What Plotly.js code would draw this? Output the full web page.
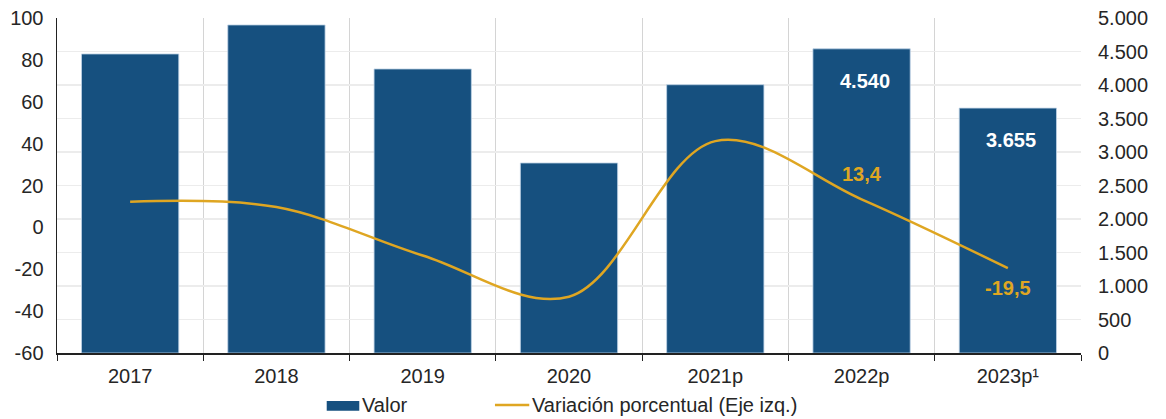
<!DOCTYPE html>
<html>
<head>
<meta charset="utf-8">
<script src="https://cdn.plot.ly/plotly-3.0.1.min.js"></script>
<style>
  html, body { margin: 0; padding: 0; background: #ffffff; }
  #chart { width: 1166px; height: 419px; }
</style>
</head>
<body>
<div id="chart"></div>
<script>
// Años (p = preliminar)
const years = ['2017', '2018', '2019', '2020', '2021p', '2022p', '2023p¹'];
// Valor (eje derecho)
const valor = [4463, 4896, 4239, 2836, 4004, 4540, 3655];
// Variación porcentual anual (eje izquierdo)
const variacion = [12.2, 9.7, -13.4, -33.1, 41.2, 13.4, -19.5];
// Años cuyos valores se rotulan
const labeledYears = ['2022p', '2023p¹'];
// Marcas del eje izquierdo (con guion simple como signo negativo)
const leftTickVals = [-60, -40, -20, 0, 20, 40, 60, 80, 100];
const leftTickText = ['-60', '-40', '-20', '0', '20', '40', '60', '80', '100'];

const BAR_COLOR = '#16507f';
const LINE_COLOR = '#dfa622';
const TEXT_COLOR = '#262626';
const FONT = 'Liberation Sans, Arial, sans-serif';

const fmtValor = v => v.toLocaleString('es-ES', { useGrouping: 'always' }).replace(/\s/g, '.');
const fmtVar = v => v.toLocaleString('es-ES', { minimumFractionDigits: 1, maximumFractionDigits: 1 }).replace('\u2212', '-');

// Barras en el eje base (derecho); la línea en un eje superpuesto (izquierdo) para quedar encima
const traces = [
  {
    type: 'bar',
    name: 'Valor',
    x: years,
    y: valor,
    yaxis: 'y',
    marker: { color: BAR_COLOR, line: { color: 'rgba(190,210,230,0.8)', width: 1 } },
    hoverinfo: 'x+y',
    showlegend: false
  },
  {
    type: 'scatter',
    mode: 'lines',
    name: 'Variación porcentual (Eje izq.)',
    x: years,
    y: variacion,
    yaxis: 'y2',
    line: { color: LINE_COLOR, width: 2.5, shape: 'spline', smoothing: 1 },
    showlegend: false
  }
];

const annotations = [];
labeledYears.forEach(yr => {
  const i = years.indexOf(yr);
  annotations.push({
    x: yr, y: valor[i], xref: 'x', yref: 'y',
    text: '<b>' + fmtValor(valor[i]) + '</b>',
    showarrow: false, yanchor: 'middle', yshift: -32, xshift: 3,
    font: { family: FONT, size: 20, color: '#ffffff' }
  });
});
// Rótulos de la variación en los dos últimos años
const varShift = { '2022p': 25, '2023p¹': -20 };
labeledYears.forEach(yr => {
  const i = years.indexOf(yr);
  annotations.push({
    x: yr, y: variacion[i], xref: 'x', yref: 'y2',
    text: '<b>' + fmtVar(variacion[i]) + '</b>',
    showarrow: false, yanchor: 'middle', yshift: varShift[yr],
    font: { family: FONT, size: 20, color: LINE_COLOR }
  });
});

// Leyenda
annotations.push(
  { xref: 'paper', yref: 'paper', x: 0.2960, y: -0.1552, xanchor: 'left', yanchor: 'middle',
    text: 'Valor', showarrow: false, font: { family: FONT, size: 20, color: TEXT_COLOR } },
  { xref: 'paper', yref: 'paper', x: 0.4617, y: -0.1552, xanchor: 'left', yanchor: 'middle',
    text: 'Variación porcentual (Eje izq.)', showarrow: false, font: { family: FONT, size: 20, color: TEXT_COLOR } }
);
const shapes = [
  { type: 'rect', xref: 'paper', yref: 'paper', x0: 0.2634, x1: 0.2952, y0: -0.1433, y1: -0.1722,
    fillcolor: BAR_COLOR, line: { width: 0 } },
  { type: 'line', xref: 'paper', yref: 'paper', x0: 0.4277, x1: 0.4612, y0: -0.1552, y1: -0.1552,
    line: { color: LINE_COLOR, width: 2.5 } }
];

const layout = {
  width: 1166,
  height: 419,
  margin: { l: 57, r: 85, t: 18, b: 66 },
  paper_bgcolor: '#ffffff',
  plot_bgcolor: '#ffffff',
  separators: ',.',
  font: { family: FONT, size: 20, color: TEXT_COLOR },
  bargap: 0.335,
  showlegend: false,
  xaxis: {
    type: 'category',
    tickson: 'boundaries',
    ticks: 'outside', ticklen: 6, tickcolor: '#222',
    showgrid: true, gridcolor: '#d4d4d4', gridwidth: 1,
    showline: true, linecolor: '#222', linewidth: 1.5,
    tickfont: { family: FONT, size: 20, color: TEXT_COLOR },
    ticklabelstandoff: 4
  },
  yaxis: {
    range: [0, 5000], dtick: 500, tick0: 0,
    side: 'right',
    tickformat: ',d',
    showgrid: true, gridcolor: '#ececec', gridwidth: 1.5,
    zeroline: false, showline: false, ticks: '',
    ticklabelstandoff: 16,
    tickfont: { family: FONT, size: 20, color: TEXT_COLOR }
  },
  yaxis2: {
    range: [-60, 100],
    tickmode: 'array', tickvals: leftTickVals, ticktext: leftTickText,
    side: 'left', overlaying: 'y', anchor: 'x',
    showgrid: false, zeroline: false,
    showline: true, linecolor: '#222', linewidth: 1.5,
    ticks: '',
    ticklabelstandoff: 8,
    tickfont: { family: FONT, size: 20, color: TEXT_COLOR }
  },
  yaxis3: {
    range: [0, 5000], dtick: 500, tick0: 0,
    side: 'left', overlaying: 'y', anchor: 'x',
    showgrid: false, zeroline: false, showline: false,
    showticklabels: false,
    ticks: 'outside', ticklen: 7, tickcolor: '#222'
  },
  annotations: annotations,
  shapes: shapes
};

Plotly.newPlot('chart', traces, layout, { displayModeBar: false, staticPlot: true });
</script>
</body>
</html>
